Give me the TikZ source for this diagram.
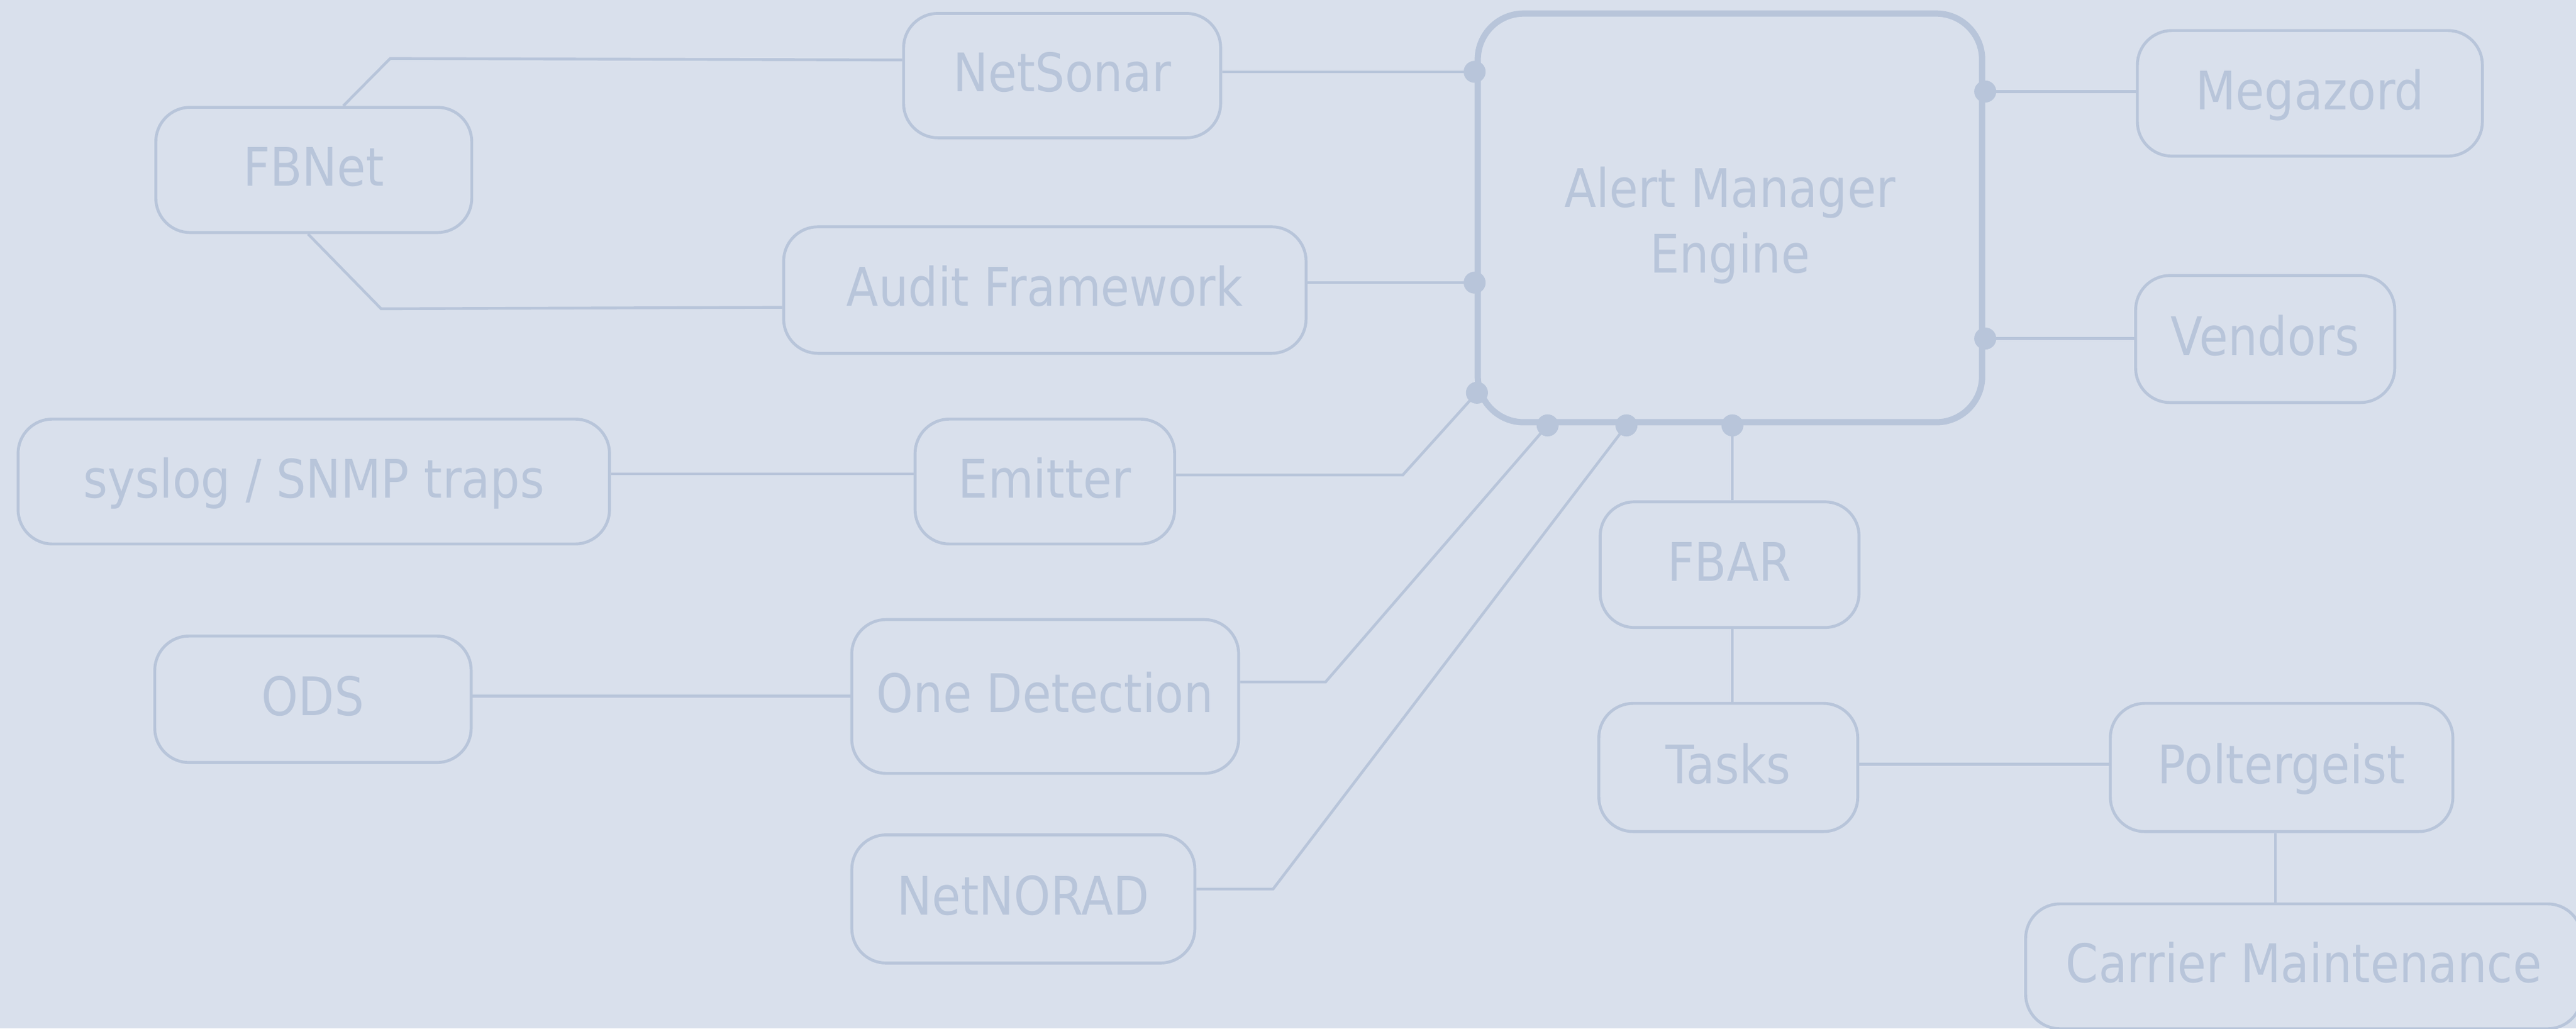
\documentclass[tikz,border=0pt]{standalone}
\usepackage{fontspec}
\setmainfont{DejaVu Sans}[FakeStretch=0.88]
\usetikzlibrary{calc}
\definecolor{bgc}{HTML}{D9E0EC}
\definecolor{linec}{HTML}{B8C5DA}
\tikzset{
  txt/.style={text=linec, font=\fontsize{21.25pt}{26pt}\selectfont},
  box/.style={txt, draw=linec, line width=1.17pt, rounded corners=13.75pt, inner sep=0pt, text height=15.5pt, text depth=2.6pt},
  engine/.style={draw=linec, line width=2.5pt, rounded corners=18.4pt, inner sep=0pt},
  lbl/.style={txt, inner sep=0pt, text height=15.5pt, text depth=0pt},
  link/.style={draw=linec, line width=1.1pt},
  dotc/.style={fill=linec}
}
\begin{document}
\begin{tikzpicture}[x=0.6573pt,y=-0.6573pt]
\fill[bgc] (0,0) rectangle (1568,625.8);
\useasboundingbox (0,0) rectangle (1568,625.8);
\clip (0,0) rectangle (1568,625.8);

\node[box, minimum width=193*0.6573pt, minimum height=75.7*0.6573pt] (netsonar) at (646.5,46) {NetSonar};
\node[box, minimum width=192.3*0.6573pt, minimum height=76.2*0.6573pt] (fbnet) at (191,103.4) {FBNet};
\node[box, minimum width=318*0.6573pt, minimum height=77*0.6573pt] (audit) at (636,176.5) {Audit Framework};
\node[box, minimum width=360*0.6573pt, minimum height=76*0.6573pt] (syslog) at (191,293) {syslog / SNMP traps};
\node[box, minimum width=158*0.6573pt, minimum height=76*0.6573pt] (emitter) at (636,293) {Emitter};
\node[box, minimum width=192.6*0.6573pt, minimum height=77*0.6573pt] (ods) at (190.5,425.5) {ODS};
\node[box, minimum width=235.5*0.6573pt, minimum height=93.6*0.6573pt] (onedet) at (636.2,423.8) {One Detection};
\node[box, minimum width=208.8*0.6573pt, minimum height=78*0.6573pt] (netnorad) at (622.9,547) {NetNORAD};
\node[engine, minimum width=307*0.6573pt, minimum height=248.7*0.6573pt] (alert) at (1053,132.6) {};
\node[lbl] (alertA) at (1053,114.5) {Alert Manager};
\node[lbl] (alertB) at (1053,154.2) {Engine};
\node[box, minimum width=210*0.6573pt, minimum height=76.4*0.6573pt] (megazord) at (1406,56.8) {Megazord};
\node[box, minimum width=157.7*0.6573pt, minimum height=77.3*0.6573pt] (vendors) at (1378.8,206.3) {Vendors};
\node[box, minimum width=157.6*0.6573pt, minimum height=76.5*0.6573pt] (fbar) at (1052.8,343.6) {FBAR};
\node[box, minimum width=157.6*0.6573pt, minimum height=78*0.6573pt] (tasks) at (1052,467) {Tasks};
\node[box, minimum width=208.5*0.6573pt, minimum height=78*0.6573pt] (polter) at (1388.8,467) {Poltergeist};
\node[box, minimum width=338.6*0.6573pt, minimum height=76*0.6573pt] (carrier) at (1402.3,588) {Carrier Maintenance};

\coordinate (p1) at ($(alert.west)+(0,-88.9)$);
\coordinate (p2) at ($(alert.west)+(0,39.4)$);
\coordinate (p3) at ($(alert.west)+(1.4,106.4)$);
\coordinate (p4) at ($(alert.south)+(-111,0)$);
\coordinate (p5) at ($(alert.south)+(-63,0)$);
\coordinate (p6) at ($(alert.south)+(1.5,0)$);
\coordinate (p7) at ($(alert.east)+(0,-76.9)$);
\coordinate (p8) at ($(alert.east)+(0,73.4)$);
\coordinate (s5) at ($(syslog.east)+(0,-4.6)$);
\coordinate (s9) at ($(ods.east)+(0,-2)$);
\coordinate (s11) at ($(tasks.east)+(0,-2)$);
\coordinate (s12) at ($(polter.south)+(-3.8,0)$);

\draw[link] ($(fbnet.north)+(18,0)$) -- ++(28.5,-28.8) -- ($(netsonar.west)+(0,-9.5)$);
\draw[link] ($(fbnet.south)+(-3.5,0)$) -- ++(44.5,45.5) -- ($(audit.west)+(0,10.5)$);
\draw[link] (netsonar.east |- p1) -- (p1);
\draw[link] (audit.east |- p2) -- (p2);
\draw[link] (s5) -- (emitter.west |- s5);
\draw[link] ($(emitter.east)+(0,-4)$) -- ++(138,0) -- (p3);
\draw[link] ($(onedet.east)+(0,-8.8)$) -- ++(52,0) -- (p4);
\draw[link] ($(netnorad.east)+(0,-6)$) -- ++(46.7,0) -- (p5);
\draw[link] (s9) -- (onedet.west |- s9);
\draw[link] (p6) -- (p6 |- fbar.north);
\draw[link] (p6 |- fbar.south) -- (p6 |- tasks.north);
\draw[link] (s11) -- (polter.west |- s11);
\draw[link] (s12) -- (s12 |- carrier.north);
\draw[link] (p7) -- (megazord.west |- p7);
\draw[link] (p8) -- (vendors.west |- p8);

\fill[dotc] (p1) circle (4.4pt);
\fill[dotc] (p2) circle (4.4pt);
\fill[dotc] (p3) circle (4.4pt);
\fill[dotc] (p4) circle (4.4pt);
\fill[dotc] (p5) circle (4.4pt);
\fill[dotc] (p6) circle (4.4pt);
\fill[dotc] (p7) circle (4.4pt);
\fill[dotc] (p8) circle (4.4pt);
\end{tikzpicture}
\end{document}
